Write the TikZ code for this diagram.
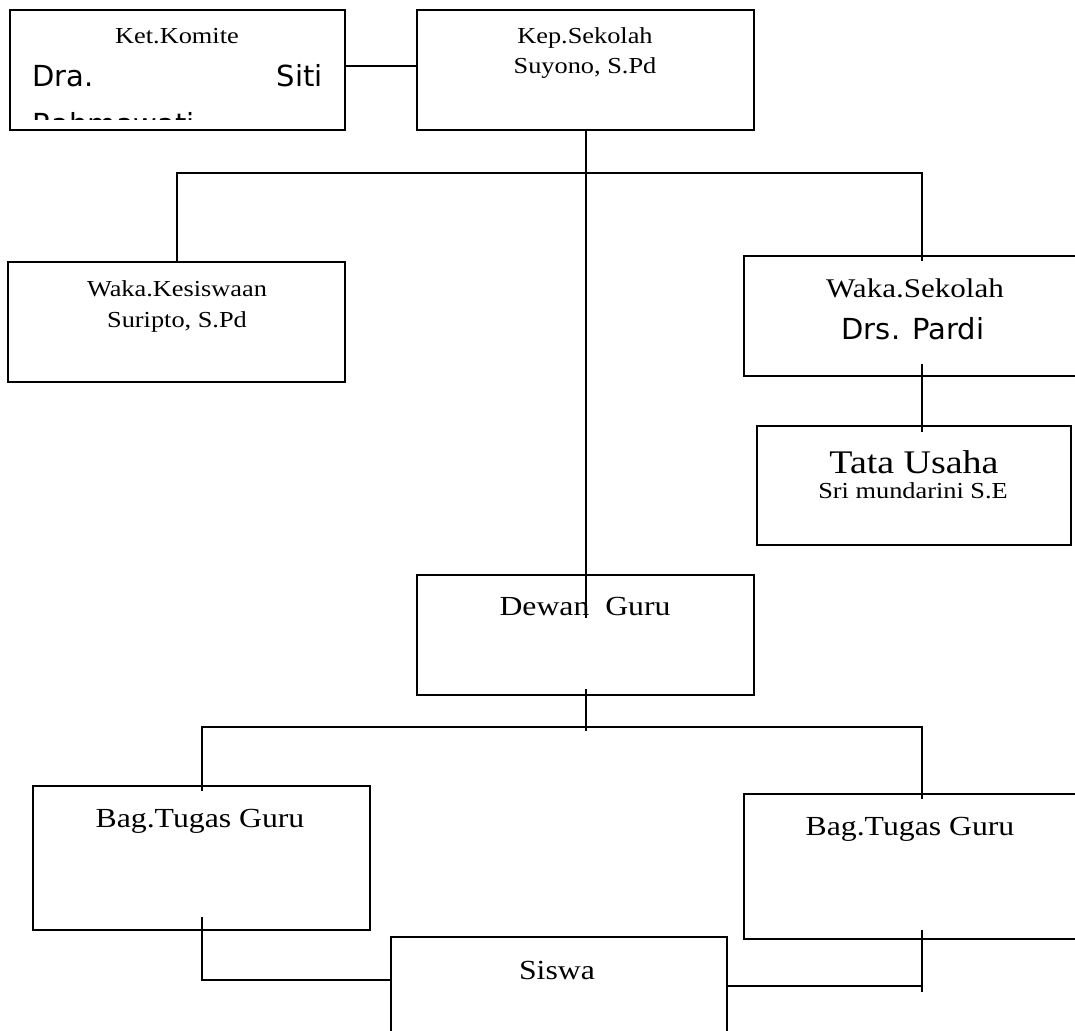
\documentclass[tikz,border=0pt]{standalone}
\usepackage{fontspec}
\setmainfont[FakeStretch=1.15]{Liberation Serif}
\newfontfamily\comicfont{DejaVu Sans}
\usetikzlibrary{positioning}
\tikzset{
    orgbox/.style={draw, line width=2pt, inner sep=0pt},
    caption/.style={inner sep=0pt, anchor=base},
    link/.style={draw, line width=2pt}
}
\newcommand{\smalltxt}{\fontsize{22.9}{27}\selectfont}
\newcommand{\bigtxt}{\fontsize{27.6}{32}\selectfont}
\newcommand{\handtxt}{\comicfont\fontsize{29}{40}\selectfont}

\begin{document}
\begin{tikzpicture}[x=1pt, y=-1pt]
    \useasboundingbox (0,0) rectangle (1075,1030);
    \clip (0,0) rectangle (1075,1030);

    % Boxes
    \node[orgbox, minimum width=335pt, minimum height=120pt] (komite) at (177.5,70) {};
    \node[orgbox, minimum width=337pt, minimum height=120pt] (kep) at (585.5,70) {};
    \node[orgbox, minimum width=337pt, minimum height=120pt] (kes) at (176.5,322) {};
    \node[orgbox, minimum width=356pt, minimum height=120pt] (wsek) at (922,316) {};
    \node[orgbox, minimum width=314pt, minimum height=119pt] (tata) at (914,485.5) {};
    \node[orgbox, minimum width=337pt, minimum height=120pt] (dg) at (585.5,635) {};
    \node[orgbox, minimum width=337pt, minimum height=144pt] (bagL) at (201.5,858) {};
    \node[orgbox, minimum width=356pt, minimum height=145pt] (bagR) at (922,866.5) {};
    \node[orgbox, minimum width=336pt, minimum height=120pt] (sis) at (559,997) {};

    % Texts
    \node[caption] (komiteA) at (177,44) {\smalltxt Ket.Komite};
    \node[caption, anchor=base west] (komiteB) at (32,87) {\handtxt Dra.};
    \node[caption, anchor=base east] (komiteC) at (323,87) {\handtxt Siti};
    \begin{scope}
        \clip (11,11) rectangle (344,120);
        \node[caption, anchor=base west] (komiteD) at (32,134) {\handtxt Rahmawati};
    \end{scope}
    \node[caption] (kepA) at (585,44) {\smalltxt Kep.Sekolah};
    \node[caption] (kepB) at (585,74) {\smalltxt Suyono, S.Pd};
    \node[caption] (kesA) at (177,296) {\smalltxt Waka.Kesiswaan};
    \node[caption] (kesB) at (177,327) {\smalltxt Suripto, S.Pd};
    \node[caption] (wsekA) at (915,297) {\fontsize{27}{32}\selectfont Waka.Sekolah};
    \node[caption] (wsekB) at (913,339) {\handtxt Drs. Pardi};
    \node[caption] (tataA) at (914,473) {\fontsize{33}{38}\selectfont Tata Usaha};
    \node[caption] (tataB) at (913,498) {\smalltxt Sri mundarini S.E};
    \node[caption] (dgA) at (585,615) {\bigtxt Dewan\ \ Guru};
    \node[caption] (bagLA) at (200,827) {\bigtxt Bag.Tugas Guru};
    \node[caption] (bagRA) at (910,835) {\bigtxt Bag.Tugas Guru};
    \node[caption] (sisA) at (557,979) {\bigtxt Siswa};

    % Lines
    \coordinate (bar1) at (585.5,173);
    \coordinate (dgIn) at (585.5,618);
    \coordinate (bar2) at (585,727);
    \coordinate (sisL) at ([yshift=17pt]sis.west);
    \coordinate (sisR) at ([yshift=11pt]sis.east);
    \draw[link] ([yshift=4pt]komite.east) -- ([yshift=4pt]kep.west);
    \draw[link] (kep.south) -- (dgIn);
    \draw[link] (kes.north) |- (bar1) -| ([yshift=-6pt]wsek.north);
    \draw[link] ([yshift=13pt]wsek.south) -- ([yshift=-7pt]wsek.south |- tata.north);
    \draw[link] ([yshift=7pt]dg.south) -- ([yshift=-4pt]dg.south |- bar2);
    \draw[link] ([yshift=-6pt]bagL.north) |- (bar2) -| ([yshift=-6pt]bagR.north);
    \draw[link] ([yshift=14pt]bagL.south) |- (sisL);
    \draw[link] (sisR) -| ([yshift=10pt]bagR.south);
    \draw[link] (bagR.south |- sisR) -- ++(0,6);
\end{tikzpicture}
\end{document}
